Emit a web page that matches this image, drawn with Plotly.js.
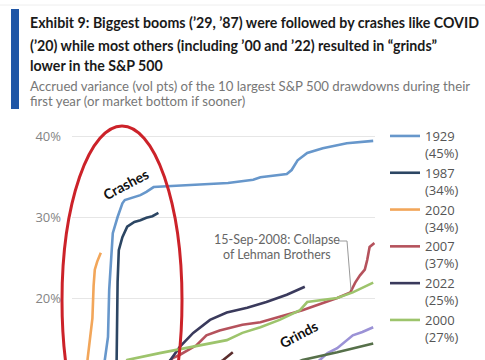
<!DOCTYPE html>
<html>
<head>
<meta charset="utf-8">
<script src="https://cdn.plot.ly/plotly-3.0.1.min.js"></script>
<style>html,body{margin:0;padding:0;background:#fff;}#chart{width:485px;height:360px;}</style>
</head>
<body>
<div id="chart"></div>
<script>
// ---- data (trading days since peak, accrued variance in vol pts %) ----
const days1929 = [0, 8, 16, 22, 27, 30, 31, 33, 34, 38, 42, 44, 57, 62, 68, 79, 107, 130, 151, 157, 179, 183, 188, 196, 209, 229, 251];
const vals1929 = [0, 1.2, 3.0, 6.0, 12.0, 15.2, 21.0, 25.1, 28.0, 30.0, 31.7, 32.1, 32.7, 33.1, 33.7, 33.8, 34.0, 34.2, 34.6, 34.9, 35.3, 35.8, 37.0, 37.9, 38.5, 39.1, 39.4];
const days1987 = [0, 10, 20, 30, 35, 37, 38, 39, 42, 46, 52, 57, 62, 67, 72];
const vals1987 = [0, 0.8, 1.8, 3.0, 5.0, 10.0, 22.0, 25.9, 27.5, 28.8, 29.4, 29.6, 29.9, 30.1, 30.5];
const days2020 = [0, 4, 8, 10, 12, 13, 15, 17, 18, 19, 21, 23, 24];
const vals2020 = [0, 0.5, 2.0, 4.5, 9.0, 12.5, 15.0, 17.5, 21.5, 23.5, 24.5, 25.2, 25.6];
const days2007 = [0, 30, 60, 84, 90, 104, 112, 123, 142, 157, 173, 192, 221, 232, 236, 240, 244, 246, 248, 252];
const vals2007 = [0, 4.0, 8.5, 12.6, 13.0, 14.2, 15.4, 16.0, 16.7, 17.0, 17.7, 18.5, 20.0, 20.7, 21.9, 22.8, 23.5, 24.7, 26.3, 26.8];
const days2022 = [0, 30, 60, 82, 90, 101, 115, 129, 146, 162, 173, 179, 194];
const vals2022 = [0, 4.5, 8.8, 12.35, 14.0, 15.7, 17.3, 18.2, 18.8, 19.5, 20.1, 20.4, 21.4];
const days2000 = [0, 15, 30, 46, 73, 101, 129, 142, 157, 173, 190, 196, 221, 234, 251];
const vals2000 = [0, 5.0, 9.0, 12.35, 13.2, 14.0, 14.8, 15.7, 16.4, 17.3, 18.5, 19.5, 20.0, 20.7, 21.9];
const daysOtherA = [0, 100, 200, 213, 221, 234, 242, 251];
const valsOtherA = [0, 6.0, 11.5, 13.2, 13.8, 15.4, 15.8, 16.4];
const daysOtherB = [0, 100, 192, 221, 251];
const valsOtherB = [0, 6.5, 12.35, 13.3, 14.4];
const daysOtherC = [0, 60, 126, 134];
const valsOtherC = [0, 6.0, 12.35, 13.3];

const legendNames = ["1929<br>(45%)", "1987<br>(34%)", "2020<br>(34%)", "2007<br>(37%)", "2022<br>(25%)", "2000<br>(27%)"];
const yTicks = [20, 30, 40];
const yTickText = ['20%', '30%', '40%'];

// ---- layout helpers (pixel -> paper) ----
const PL = 72, PR = 375, PT = 122, PB = 360;
const px = x => (x - PL) / (PR - PL);
const py = y => (PB - y) / (PB - PT);

const colors = ['#6797cb', '#2c4663', '#f2a65a', '#b5525c', '#3a3a5c', '#9dc46c', '#9b92d6', '#56704a', '#5a2d2d'];
const series = [
  [days1929, vals1929, legendNames[0], true],
  [days1987, vals1987, legendNames[1], true],
  [days2020, vals2020, legendNames[2], true],
  [days2007, vals2007, legendNames[3], true],
  [days2022, vals2022, legendNames[4], true],
  [days2000, vals2000, legendNames[5], true],
  [daysOtherA, valsOtherA, 'other A', false],
  [daysOtherB, valsOtherB, 'other B', false],
  [daysOtherC, valsOtherC, 'other C', false]
];
const traces = series.map((s, i) => ({
  x: s[0], y: s[1], name: s[2], showlegend: s[3],
  type: 'scatter', mode: 'lines',
  line: {color: colors[i], width: 2.6}
}));

const titleFont = {family: 'Lato, sans-serif', size: 14.2, color: '#1a1a1a', weight: 'bold'};
const subFont = {family: 'Lato, sans-serif', size: 13.2, color: '#777777'};
function txt(text, x, y, font, extra) {
  return Object.assign({text: text, xref: 'paper', yref: 'paper', x: px(x), y: py(y),
    xanchor: 'left', yanchor: 'middle', showarrow: false, font: font}, extra || {});
}

const layout = {
  width: 485, height: 360,
  margin: {l: PL, r: 485 - PR, t: PT, b: 0, pad: 0},
  paper_bgcolor: '#ffffff', plot_bgcolor: '#ffffff',
  font: {family: 'Open Sans, sans-serif', color: '#555'},
  xaxis: {range: [0, 252.5], visible: false, fixedrange: true},
  yaxis: {range: [12.35, 41.73], tickvals: yTicks, ticktext: yTickText, showgrid: true,
          gridcolor: '#e6e6e6', gridwidth: 1, zeroline: false, showline: false,
          ticks: '', ticklabelstandoff: 10,
          tickfont: {family: 'Open Sans, sans-serif', size: 13, color: '#858585'}},
  legend: {x: px(385), xanchor: 'left', y: py(121), yanchor: 'top', valign: 'top',
           maxheight: 600,
           bgcolor: 'rgba(0,0,0,0)', borderwidth: 0, tracegroupgap: 0,
           font: {family: 'Open Sans, sans-serif', size: 13, color: '#555'}},
  showlegend: true,
  shapes: [
    {type: 'line', xref: 'paper', yref: 'paper', x0: px(0), x1: px(485), y0: py(5), y1: py(5), line: {color: '#eeeeee', width: 1}},
    {type: 'rect', xref: 'paper', yref: 'paper', x0: px(11), x1: px(19), y0: py(9), y1: py(109), fillcolor: '#1f56a6', line: {width: 0}},
    {type: 'circle', xref: 'paper', yref: 'paper', x0: px(62), x1: px(182), y0: py(126), y1: py(475), line: {color: '#cc2229', width: 3}},
    {type: 'path', xref: 'paper', yref: 'paper',
     path: 'M ' + px(338) + ' ' + py(241) + ' L ' + px(347) + ' ' + py(241) + ' L ' + px(351) + ' ' + py(290),
     line: {color: '#999999', width: 1}}
  ],
  annotations: [
    txt('Exhibit 9: Biggest booms (’29, ’87) were followed by crashes like COVID', 28, 23, titleFont),
    txt('(’20) while most others (including ’00 and ’22) resulted in “grinds”', 28, 45, titleFont),
    txt('lower in the S&amp;P 500', 28, 66, titleFont),
    txt('Accrued variance (vol pts) of the 10 largest S&amp;P 500 drawdowns during their', 28, 86, subFont),
    txt('first year (or market bottom if sooner)', 28, 101, subFont),
    txt('15-Sep-2008: Collapse', 277, 239, {family: 'Lato, sans-serif', size: 12.5, color: '#666'}, {xanchor: 'center'}),
    txt('of Lehman Brothers', 277, 254, {family: 'Lato, sans-serif', size: 12.5, color: '#666'}, {xanchor: 'center'}),
    txt('Crashes', 125, 184, {family: 'Lato, sans-serif', size: 14, color: '#111', weight: 'bold'}, {xanchor: 'center', textangle: -28}),
    txt('Grinds', 298, 334, {family: 'Lato, sans-serif', size: 14, color: '#111', weight: 'bold'}, {xanchor: 'center', textangle: -28})
  ]
};

Plotly.newPlot('chart', traces, layout, {displayModeBar: false, staticPlot: true});
</script>
</body>
</html>
